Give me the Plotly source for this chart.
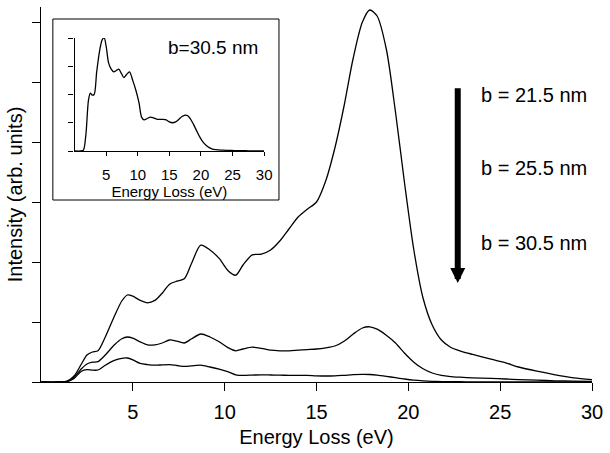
import plotly.graph_objects as go

# Energy loss grid (eV)
energy = [0, 1.0, 1.4, 1.8, 2.2, 2.5, 2.8, 3.1, 3.5, 4.0, 4.4, 4.7, 5.0, 5.4, 5.8, 6.2, 6.6,
          7.0, 7.4, 7.8, 8.2, 8.7, 9.2, 9.7, 10.2, 10.6, 11.0, 11.5, 12.0, 12.5, 13.0, 13.5,
          14.0, 14.5, 15.0, 15.5, 16.0, 16.5, 17.0, 17.5, 17.9, 18.3, 18.8, 19.3, 19.8, 20.3,
          20.8, 21.3, 21.8, 22.3, 22.8, 23.5, 24.5, 25.3, 26.0, 27.0, 28.0, 29.0, 30.0]

# b = 21.5 nm
intensity_b215 = [0, 0, 0.01, 0.1, 0.3, 0.45, 0.5, 0.52, 0.75, 1.1, 1.35, 1.45, 1.43, 1.36, 1.32,
                  1.36, 1.48, 1.63, 1.68, 1.72, 1.98, 2.28, 2.2, 2.06, 1.85, 1.78, 1.95, 2.12,
                  2.13, 2.2, 2.35, 2.55, 2.75, 2.88, 3.0, 3.35, 3.9, 4.6, 5.4, 6.0, 6.2, 6.1,
                  5.55, 4.5, 3.3, 2.2, 1.4, 0.95, 0.7, 0.58, 0.52, 0.46, 0.38, 0.32, 0.25, 0.18,
                  0.12, 0.07, 0.04]

# b = 25.5 nm
intensity_b255 = [0, 0, 0.01, 0.08, 0.22, 0.3, 0.33, 0.34, 0.45, 0.62, 0.72, 0.75, 0.73, 0.67,
                  0.62, 0.62, 0.65, 0.7, 0.68, 0.65, 0.72, 0.8, 0.75, 0.67, 0.57, 0.52, 0.55,
                  0.58, 0.56, 0.53, 0.52, 0.52, 0.53, 0.54, 0.55, 0.57, 0.6, 0.68, 0.8, 0.9,
                  0.92, 0.88, 0.78, 0.65, 0.48, 0.33, 0.22, 0.15, 0.11, 0.09, 0.08, 0.07, 0.06,
                  0.05, 0.04, 0.03, 0.02, 0.015, 0.01]

# b = 30.5 nm
intensity_b305 = [0, 0, 0.003, 0.06, 0.18, 0.205, 0.198, 0.2, 0.28, 0.36, 0.395, 0.4, 0.37, 0.31,
                  0.29, 0.28, 0.285, 0.29, 0.275, 0.26, 0.27, 0.28, 0.25, 0.215, 0.17, 0.12,
                  0.11, 0.115, 0.12, 0.117, 0.113, 0.112, 0.112, 0.11, 0.103, 0.1, 0.103, 0.112,
                  0.122, 0.127, 0.125, 0.115, 0.095, 0.072, 0.05, 0.032, 0.02, 0.012, 0.007,
                  0.005, 0.004, 0.003, 0.002, 0.0015, 0.001, 0.001, 0.0005, 0.0005, 0]

x_ticks = [5, 10, 15, 20, 25, 30]
y_ticks_main = [0, 1, 2, 3, 4, 5, 6]
y_ticks_inset = [0, 0.1, 0.2, 0.3, 0.4]
series_labels = ["b = 21.5 nm", "b = 25.5 nm", "b = 30.5 nm"]
inset_label = "b=30.5 nm"

FONT = "Liberation Sans, Arial, Helvetica, sans-serif"
line = dict(color="black", width=1.3, shape="spline", smoothing=0.8)

fig = go.Figure()
for name, ys in zip(series_labels, [intensity_b215, intensity_b255, intensity_b305]):
    fig.add_trace(go.Scatter(x=energy, y=ys, mode="lines", line=line, name=name,
                             showlegend=False, xaxis="x", yaxis="y"))

fig.add_trace(go.Scatter(x=energy, y=intensity_b305, mode="lines", line=line, name=inset_label,
                         showlegend=False, xaxis="x2", yaxis="y2"))

W, H = 610, 453
L, R, T, B = 41, 11, 7, 71
pw, ph = W - L - R, H - T - B


def px(xp):
    return (xp - L) / pw


def py(yp):
    return (H - B - yp) / ph


fig.update_layout(
    width=W, height=H,
    margin=dict(l=L, r=R, t=T, b=B),
    paper_bgcolor="white", plot_bgcolor="white",
    font=dict(family=FONT, size=20, color="black"),
    xaxis=dict(range=[0, 30], tickvals=x_ticks, ticks="outside", ticklen=8, tickwidth=1.2,
               tickcolor="black", showline=True, linecolor="black", linewidth=1.3,
               showgrid=False, zeroline=False, tickfont=dict(size=20), ticklabelstandoff=4,
               title=dict(text="Energy Loss (eV)", font=dict(size=20), standoff=7)),
    yaxis=dict(range=[0, 6.25], tickvals=y_ticks_main, ticks="outside", ticklen=8, tickwidth=1.2,
               tickcolor="black", showticklabels=False, showline=True, linecolor="black",
               linewidth=1.3, showgrid=False, zeroline=False,
               title=dict(text="Intensity (arb. units)", font=dict(size=20), standoff=3)),
    xaxis2=dict(domain=[px(75), px(267)], anchor="y2", range=[0, 30], tickvals=x_ticks,
                ticks="outside", ticklen=4, tickcolor="black", showline=True,
                linecolor="black", linewidth=1.2, showgrid=False, zeroline=False,
                tickfont=dict(size=15), ticklabelstandoff=6,
                title=dict(text="Energy Loss (eV)", font=dict(size=15), standoff=0)),
    yaxis2=dict(domain=[py(151), py(38)], anchor="x2", range=[0, 0.4], tickvals=y_ticks_inset,
                ticks="outside", ticklen=5, tickcolor="black", showticklabels=False,
                showline=True, linecolor="black", linewidth=1.2, showgrid=False,
                zeroline=False),
    shapes=[dict(type="rect", xref="paper", yref="paper", x0=px(53), x1=px(282),
                 y0=py(200), y1=py(19), line=dict(color="black", width=1),
                 fillcolor="rgba(0,0,0,0)", layer="below")],
)

# Series labels and arrow
label_y = [4.78, 3.57, 2.32]
for text, yv in zip(series_labels, label_y):
    fig.add_annotation(x=23.87, y=yv, xref="x", yref="y", text=text, showarrow=False,
                       xanchor="left", yanchor="middle", font=dict(size=20))

fig.add_annotation(x=22.69, y=1.65, xref="x", yref="y", ax=22.69, ay=4.92, axref="x",
                   ayref="y", text="", showarrow=True, arrowhead=2, arrowsize=0.5,
                   arrowwidth=6, arrowcolor="black", standoff=0)

fig.add_annotation(x=px(168), y=py(47), xref="paper", yref="paper", text=inset_label,
                   showarrow=False, xanchor="left", yanchor="middle", font=dict(size=19))

fig.write_html("out.html",
               config={"displayModeBar": False},
               post_script="document.body.style.margin='0px';document.body.style.padding='0px';")
